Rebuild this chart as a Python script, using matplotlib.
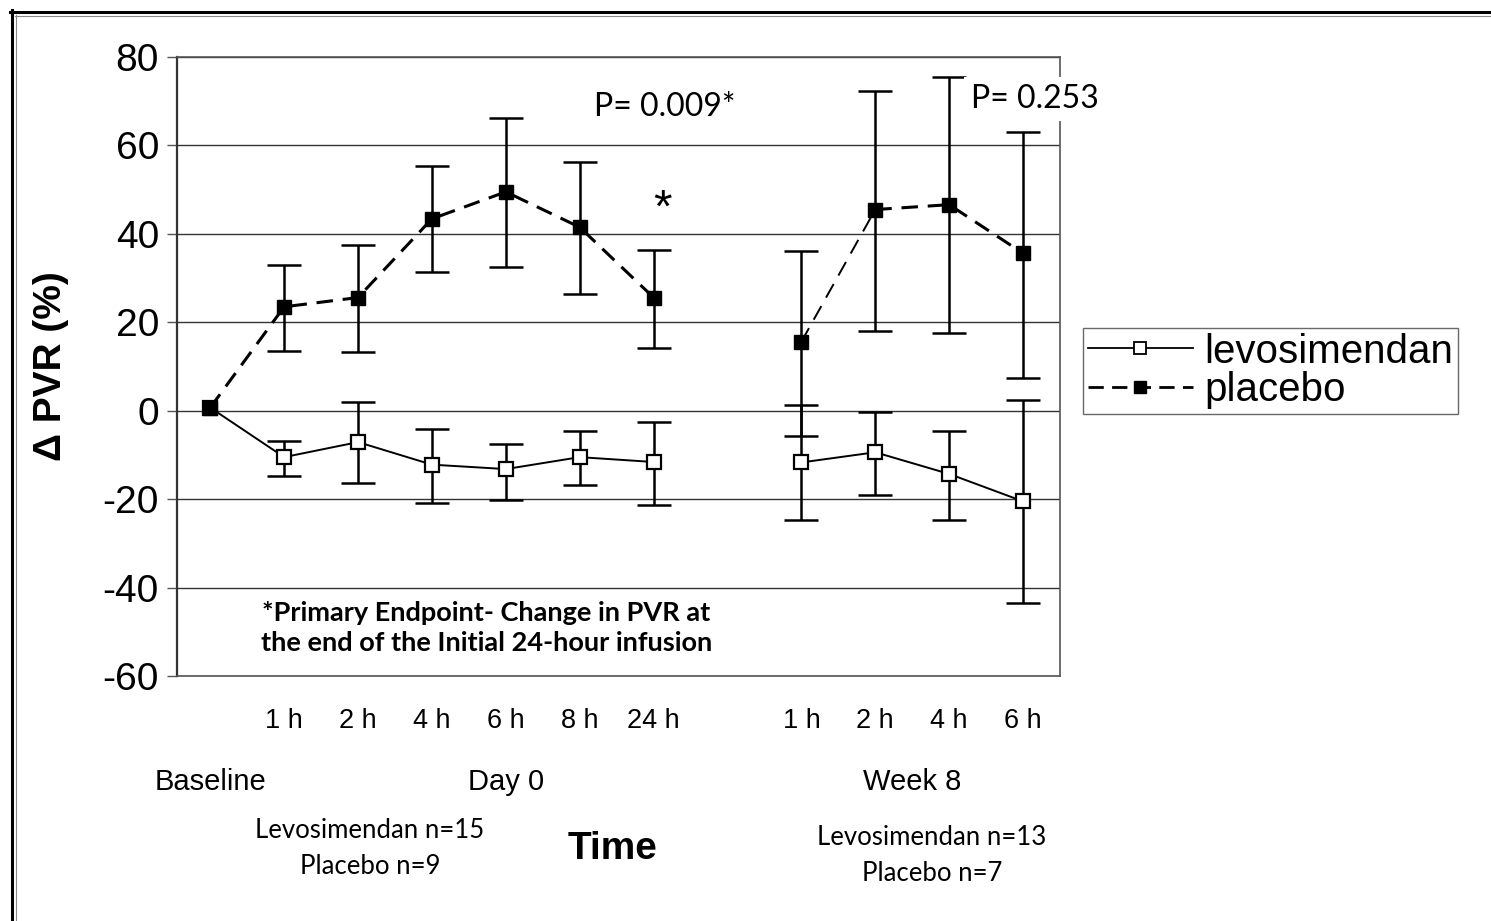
import numpy as np
import matplotlib.pyplot as plt
from matplotlib.lines import Line2D

plt.rcParams['font.family'] = ['Liberation Sans', 'DejaVu Sans']
plt.rcParams['axes.unicode_minus'] = False
CAL = ['Lato', 'DejaVu Sans']   # stand-in for Calibri

# slots on the x axis: baseline + day 0 hours, empty slot, week 8 hours
day0_x = [0, 1, 2, 3, 4, 5, 6]
week8_x = [8, 9, 10, 11]
tick_x = [1, 2, 3, 4, 5, 6, 8, 9, 10, 11]
tick_labels = ['1 h', '2 h', '4 h', '6 h', '8 h', '24 h', '1 h', '2 h', '4 h', '6 h']

# levosimendan, mean and error bar ends
levo_day0 = [0.7, -10.5, -7.1, -12.2, -13.2, -10.5, -11.6]
levo_day0_lo = [0.7, -14.7, -16.4, -20.8, -20.1, -16.9, -21.3]
levo_day0_hi = [0.7, -6.9, 2.0, -4.2, -7.5, -4.7, -2.5]
levo_week8 = [-11.7, -9.4, -14.3, -20.5]
levo_week8_lo = [-24.7, -19.0, -24.7, -43.5]
levo_week8_hi = [1.4, -0.2, -4.7, 2.5]

# placebo
plac_day0 = [0.7, 23.5, 25.6, 43.4, 49.5, 41.5, 25.6]
plac_day0_lo = [0.7, 13.5, 13.2, 31.4, 32.5, 26.4, 14.2]
plac_day0_hi = [0.7, 32.9, 37.4, 55.3, 66.3, 56.2, 36.4]
plac_week8 = [15.6, 45.5, 46.6, 35.6]
plac_week8_lo = [-5.8, 18.0, 17.5, 7.5]
plac_week8_hi = [36.2, 72.3, 75.4, 63.0]

W, H = 1491, 921


def px(x, y):
    return x / W, 1 - y / H


def yerr(v, lo, hi):
    v, lo, hi = np.array(v), np.array(lo), np.array(hi)
    return np.vstack([v - lo, hi - v])


fig = plt.figure(figsize=(W / 100, H / 100), dpi=100)
ax = fig.add_axes([177 / W, 1 - 676 / H, (1060 - 177) / W, (676 - 57) / H])

eb = dict(fmt='none', ecolor='black', elinewidth=1.8, capsize=12.5, capthick=1.8)
dash = (5.4, 3.2)

# levosimendan
ax.errorbar(day0_x[1:], levo_day0[1:], yerr=yerr(levo_day0, levo_day0_lo, levo_day0_hi)[:, 1:], zorder=3, **eb)
ax.errorbar(week8_x, levo_week8, yerr=yerr(levo_week8, levo_week8_lo, levo_week8_hi), zorder=3, **eb)
for xs, ys in [(day0_x, levo_day0), (week8_x, levo_week8)]:
    ax.plot(xs, ys, '-', color='black', lw=1.4, marker='s', ms=10,
            mfc='white', mec='black', mew=1.6, zorder=4)

# placebo
ax.errorbar(day0_x[1:], plac_day0[1:], yerr=yerr(plac_day0, plac_day0_lo, plac_day0_hi)[:, 1:], zorder=5, **eb)
ax.errorbar(week8_x, plac_week8, yerr=yerr(plac_week8, plac_week8_lo, plac_week8_hi), zorder=5, **eb)
ax.plot(day0_x, plac_day0, color='black', lw=2.2, dashes=dash, marker='s', ms=10,
        mfc='black', mec='black', zorder=6)
ax.plot(week8_x[:2], plac_week8[:2], color='black', lw=1.4, dashes=(8, 5), zorder=6)
ax.plot(week8_x[1:], plac_week8[1:], color='black', lw=2.2, dashes=dash, zorder=6)
ax.plot(week8_x, plac_week8, 'none', marker='s', ms=10, mfc='black', mec='black', zorder=7)

# axes
ax.set_xlim(-0.45, 11.5)
ax.set_ylim(-60, 80)
ax.set_yticks(np.arange(-60, 81, 20))
ax.yaxis.grid(True, color='#333333', lw=1)
ax.set_axisbelow(True)
ax.tick_params(axis='y', labelsize=28, length=7, width=1, color='#555555', pad=6)
ax.set_xticks(tick_x)
ax.set_xticklabels(tick_labels)
ax.tick_params(axis='x', labelsize=19.5, length=0, pad=23)
for s in ax.spines.values():
    s.set_color('#555555')
    s.set_linewidth(1.2)
ax.spines['left'].set_color('#333333')
ax.spines['left'].set_linewidth(1.6)

ax.set_ylabel('Δ PVR (%)', fontsize=28, fontweight='bold', labelpad=24)

# annotations in the plot
ax.text(6.15, 68.8, 'P= 0.009*', family=CAL, fontsize=23, ha='center', va='center')
ax.text(11.16, 70.4, 'P= 0.253', family=CAL, fontsize=23, ha='center', va='center',
        clip_on=False, zorder=10,
        bbox=dict(facecolor='white', edgecolor='none', pad=5))
ax.text(6.12, 45.5, '*', fontsize=34, ha='center', va='center')
ax.text(3.74, -49.2, '*Primary Endpoint- Change in PVR at\nthe end of the Initial 24-hour infusion',
        family=CAL, fontsize=19.5, fontweight='bold', ha='center', va='center', linespacing=1.3)

# group labels under the axis
xt = ax.get_xaxis_transform()
lab_y = 1 - (782 - 57) / (676 - 57)
ax.text(0, lab_y, 'Baseline', transform=xt, fontsize=21, ha='center', va='center')
ax.text(4, lab_y, 'Day 0', transform=xt, fontsize=21, ha='center', va='center')
ax.text(9.5, lab_y, 'Week 8', transform=xt, fontsize=21, ha='center', va='center')

fig.text(*px(370, 831), 'Levosimendan n=15', family=CAL, fontsize=18.5, ha='center', va='center')
fig.text(*px(370, 866), 'Placebo n=9', family=CAL, fontsize=18.5, ha='center', va='center')
fig.text(*px(932, 837), 'Levosimendan n=13', family=CAL, fontsize=18.5, ha='center', va='center')
fig.text(*px(932, 873), 'Placebo n=7', family=CAL, fontsize=18.5, ha='center', va='center')
fig.text(*px(613, 849), 'Time', fontsize=28, fontweight='bold', ha='center', va='center')

# legend
handles = [
    Line2D([], [], color='black', lw=1.3, marker='s', ms=9, mfc='white', mec='black', mew=1.3),
    Line2D([], [], color='black', lw=2, dashes=(5.5, 3), marker='s', ms=9, mfc='black', mec='black'),
]
leg = fig.legend(handles, ['levosimendan', 'placebo'], loc='center left',
                 bbox_to_anchor=px(1083, 371), fontsize=29, frameon=True, fancybox=False,
                 handlelength=2.6, handletextpad=0.3, labelspacing=0.02, borderpad=0.12,
                 borderaxespad=0)
leg.get_frame().set_edgecolor('#444444')
leg.get_frame().set_linewidth(1)

# frame around the whole picture (top and left edges)
fig.add_artist(Line2D([10 / W, 1], [1 - 12 / H] * 2, color='black', lw=2.2))
fig.add_artist(Line2D([12 / W] * 2, [0, 1 - 10 / H], color='black', lw=2.2))
fig.add_artist(Line2D([15 / W, 1], [1 - 16 / H] * 2, color='#888888', lw=0.8))
fig.add_artist(Line2D([16 / W] * 2, [0, 1 - 15 / H], color='#888888', lw=0.8))

fig.savefig('out.png', dpi=100)
